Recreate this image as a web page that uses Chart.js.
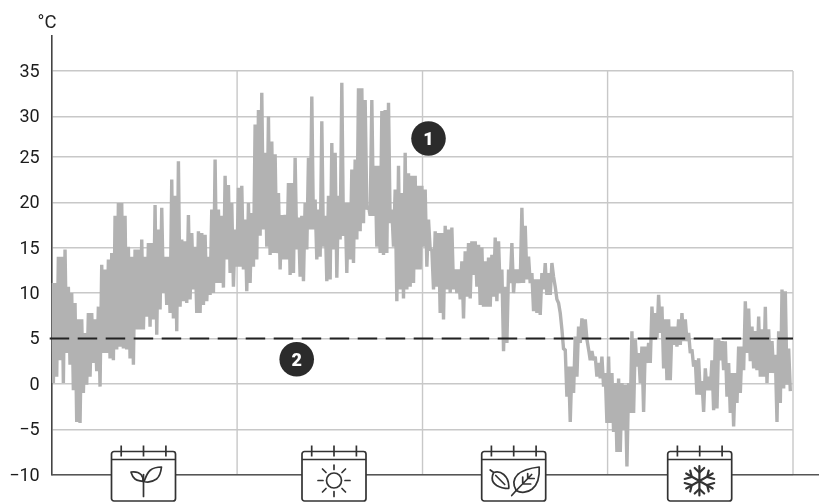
<!DOCTYPE html>
<html>
<head>
<meta charset="utf-8">
<style>
html,body{margin:0;padding:0;background:#fff;width:819px;height:503px;overflow:hidden}
#wrap{position:relative;width:819px;height:503px}
canvas{position:absolute;left:0;top:0}
svg{position:absolute;left:0;top:0;pointer-events:none}
text{font-family:Roboto,sans-serif}
</style>
<script src="https://cdn.jsdelivr.net/npm/chart.js@4/dist/chart.umd.js"></script>
</head>
<body>
<div id="wrap">
<canvas id="c" width="819" height="503"></canvas>
<svg width="819" height="503" viewBox="0 0 819 503">
  <defs>
    <g id="cal" fill="none" stroke="#333" stroke-width="1.7">
      <rect x="0" y="0" width="64" height="49.5" rx="2.5" fill="#fff"/>
      <line x1="0" y1="8" x2="64" y2="8"/>
      <line x1="9.7" y1="-6" x2="9.7" y2="5"/>
      <line x1="32" y1="-6" x2="32" y2="5"/>
      <line x1="54.4" y1="-6" x2="54.4" y2="5"/>
    </g>
  </defs>
  <text x="37.5" y="27.5" font-size="18.5" fill="#222">°C</text>
  <g transform="translate(111.5 451.5)">
    <use href="#cal"/>
    <g fill="none" stroke="#333" stroke-width="1.7" stroke-linecap="round" stroke-linejoin="round">
      <path d="M32 45V23"/>
      <path d="M31.5 30C29 29 26 29.5 23.5 27.5C20.5 25 20 22 19.5 20.5C23 20 27 20.5 29.5 23C31.5 25.5 32 28 31.5 30Z"/>
      <path d="M32.5 30C34 27 35 22 38.5 19C41.5 16.5 46 15.5 50 15.5C49.5 20 48 25 45 27.5C41.5 30 36 31 32.5 30Z"/>
    </g>
  </g>
  <g transform="translate(302 451.5)">
    <use href="#cal"/>
    <g fill="none" stroke="#333" stroke-width="1.7" stroke-linecap="round">
      <circle cx="32" cy="29" r="7.5"/>
      <path d="M32 13.5V18M32 40V45M16 29H21M43 29H48M20.5 17.5L24 21M40 37L43.5 40.5M43.5 17.5L40 21M24 37L20.5 40.5"/>
    </g>
  </g>
  <g transform="translate(481.7 451.5)">
    <use href="#cal"/>
    <g fill="none" stroke="#333" stroke-width="1.7" stroke-linecap="round" stroke-linejoin="round">
      <path d="M8.5 18.5L12 21C9.5 26 10.5 31 15 34C19 36.5 23 37 27 37C27.5 32 26 26.5 22 23C19 20.5 15 20 12 21"/>
      <path d="M14 24L23 33"/>
      <path d="M30 44L34.5 39"/>
      <path d="M34.5 39C31 33 32 27 36 23C41 18.5 49 16.5 57.5 15.5C58 24 56 33 50.5 37.5C46 41 39.5 42 34.5 39Z"/>
      <path d="M34.5 39L50 23M41 32.5V25.5M41 32.5H49M46 27V22M46 27H52.5"/>
    </g>
  </g>
  <g transform="translate(667.7 451.5)">
    <use href="#cal"/>
    <g fill="none" stroke="#333" stroke-width="2.2" stroke-linecap="round" stroke-linejoin="round">
      <path d="M31.7 14.5V44M18.5 22L45 37M18.5 37L45 22"/>
      <path d="M27 16.5L31.7 21L36.5 16.5M27 42L31.7 37.5L36.5 42"/>
      <path d="M17 27.5L24 25.5L22.5 19M46.5 27.5L39.5 25.5L41 19M17 31.5L24 33.5L22.5 40M46.5 31.5L39.5 33.5L41 40"/>
    </g>
  </g>
  <circle cx="428.5" cy="138.5" r="17.3" fill="#2b2b2b"/>
  <text x="428.5" y="145" font-size="18" font-weight="900" fill="#fff" text-anchor="middle">1</text>
  <circle cx="296.7" cy="359.3" r="17.3" fill="#2b2b2b"/>
  <text x="296.7" y="365.8" font-size="18" font-weight="900" fill="#fff" text-anchor="middle">2</text>
</svg>
</div>
<script>
// Temperature envelope (°C), one column per step along the year
const springHigh = [11.1,11.1,14.0,14.0,14.8,10.7,10.0,8.9,7.1,7.1,5.6,7.8,7.8,7.1,8.5,13.1,12.6,13.7,14.4,18.5,19.9,19.9,18.5,15.1,14.0,14.8,14.8,15.9,14.0,15.5,15.5,19.7,17.0,19.4,14.0,14.0,22.5,20.7,24.5,15.9,15.7,18.6,16.6,15.1,16.8,16.6,16.4,14.0,19.2,24.7,19.2,18.5,22.9,21.9,19.9,17.0,21.6];
const springLow = [0.1,0.8,2.6,0.1,3.4,2.1,-0.7,-4.2,-4.3,-1.0,-0.1,0.8,2.3,1.4,-0.3,3.4,3.4,2.8,2.6,3.8,4.1,3.9,3.8,2.8,2.1,6.0,6.0,6.0,7.4,6.3,7.1,5.4,8.2,10.0,8.7,7.8,7.2,5.8,8.5,9.1,8.9,9.3,10.4,7.8,7.8,8.7,9.1,9.8,10.0,11.1,11.1,10.6,13.7,12.2,10.7,12.9,12.9];
const summerHigh = [21.8,18.1,19.9,18.8,29.0,30.7,32.6,25.5,30.0,26.9,25.3,21.0,18.6,18.6,22.1,22.1,24.9,18.3,18.5,19.9,24.9,32.2,20.3,19.2,29.4,18.5,20.7,26.7,25.5,20.7,33.7,19.9,19.9,23.6,24.7,33.1,33.1,31.8,19.6,31.8,24.0,24.0,30.6,30.7,31.5,19.2,21.4,24.0,21.0,25.5,23.2,22.9,22.9,21.8,21.8,21.4,18.1,14.8,16.8,16.6];
const summerLow = [12.6,10.2,11.1,12.9,13.7,16.3,17.0,15.1,14.2,14.4,14.4,12.6,13.7,13.7,12.0,12.2,14.8,11.8,11.3,14.8,17.0,17.0,13.7,14.0,15.1,11.3,11.5,14.8,11.7,15.9,16.3,12.2,13.7,13.3,15.9,16.8,17.7,19.2,18.5,18.5,15.1,14.4,14.2,14.4,17.7,15.1,9.1,10.4,9.4,10.4,10.7,11.1,12.6,12.6,15.1,12.9,14.8,10.4,10.7,7.8];
const autumnHigh = [16.6,17.4,17.0,17.2,12.6,12.6,13.5,14.6,15.5,15.7,15.7,15.3,15.0,13.5,13.9,14.2,16.1,15.7,12.6,10.7,12.6,15.5,12.6,12.6,19.4,17.4,14.0,12.2,11.5,11.5,12.2,13.3,12.2,13.3,10.7,8.9,6.0,3.8,1.9,1.9,5.2,6.3,7.2,7.1,3.8,3.6,3.0,2.3,3.0,1.2,3.0,1.2,0.1,0.6];
const autumnLow = [7.1,10.4,10.0,10.4,10.0,9.3,7.2,9.6,9.4,12.0,10.7,8.7,8.5,8.5,8.5,9.6,9.1,10.0,3.6,4.5,11.1,10.0,11.1,11.1,11.1,11.5,11.1,8.0,7.8,7.6,10.4,9.8,9.8,11.8,9.3,7.8,3.8,-1.4,-4.2,-1.0,0.8,4.5,5.0,4.9,2.6,2.6,0.8,0.6,-0.3,-4.3,-4.3,-5.3,-7.5,-7.5];
const winterHigh = [0.1,-0.1,0.1,5.8,4.9,3.4,4.1,4.1,4.5,8.5,7.8,9.8,8.5,7.1,7.1,6.3,6.3,7.1,7.8,7.1,5.6,3.8,2.6,2.8,0.3,1.7,0.8,2.6,4.9,5.0,4.7,4.7,2.3,1.2,1.2,4.1,4.1,9.1,8.3,6.3,5.8,7.4,6.0,8.5,6.0,4.7,3.2,5.8,10.4,10.2,3.9];
const winterLow = [-5.1,-9.1,-3.2,-3.2,1.9,0.1,-3.1,2.3,2.3,4.9,5.0,5.6,1.7,0.4,0.4,4.3,4.1,4.3,4.7,4.7,3.4,1.9,-1.2,-1.2,-3.1,-0.7,-0.7,-2.9,-2.7,2.6,1.5,-1.4,-3.2,-4.7,-2.1,-1.0,1.5,3.4,2.5,1.7,1.5,0.8,0.8,0.1,1.2,1.2,-4.2,-2.1,-0.5,-0.1,-0.8];
const thresholdC = 5;
const yTicks = [-10,-5,0,5,10,15,20,25,30,35];
const seasonBounds = [0,55.6,111.2,166.7,222.3];

const highs = [...springHigh,...summerHigh,...autumnHigh,...winterHigh];
const lows = [...springLow,...summerLow,...autumnLow,...winterLow];
// each column is traced up to its high and down to its low, as the dense hourly trace does
const trace = highs.flatMap((h,i)=>[{x:i,y:h},{x:i+0.5,y:lows[i]}]);

// the reference's axis is drawn with the 25-30 band slightly narrower than the others
class BentLinearScale extends Chart.LinearScale {
  getPixelForValue(v){
    if (v === null || v === undefined) return NaN;
    const w = v <= 25 ? v : v <= 30 ? 25 + (v-25)*0.888 : v - 0.56;
    return super.getPixelForValue(w);
  }
}
BentLinearScale.id = 'bentLinear';
BentLinearScale.defaults = Chart.LinearScale.defaults;
Chart.register(BentLinearScale);

const GRAY = '#b2b2b2';
const frame = {
  id:'frame',
  beforeDatasetsDraw(chart){
    const {ctx, scales:{x,y}} = chart;
    ctx.save();
    ctx.strokeStyle = '#c8c8c8';
    ctx.lineWidth = 1.4;
    seasonBounds.slice(1).forEach(b=>{
      const px = x.getPixelForValue(b);
      ctx.beginPath();
      ctx.moveTo(px, y.getPixelForValue(35));
      ctx.lineTo(px, y.getPixelForValue(-10));
      ctx.stroke();
    });
    ctx.restore();
  },
  afterDraw(chart){
    const {ctx, scales:{y}, chartArea:a} = chart;
    ctx.save();
    ctx.strokeStyle = '#555';
    ctx.lineWidth = 1.5;
    ctx.beginPath();
    ctx.moveTo(a.left, y.getPixelForValue(-10));
    ctx.lineTo(819, y.getPixelForValue(-10));
    ctx.stroke();
    ctx.restore();
  }
};

new Chart(document.getElementById('c'),{
  type:'line',
  data:{datasets:[
    {label:'5 °C',data:[{x:-0.6,y:thresholdC},{x:seasonBounds[4],y:thresholdC}],borderColor:'#222',borderWidth:2,borderDash:[19.5,8.5],pointRadius:0,fill:false,clip:false},
    {label:'Temperature',data:trace,borderColor:GRAY,borderWidth:3.4,borderJoinStyle:'bevel',pointRadius:0,fill:false,tension:0}
  ]},
  plugins:[frame],
  options:{
    responsive:false,animation:false,
    layout:{padding:{top:36,right:26,bottom:28.3,left:0}},
    plugins:{legend:{display:false},tooltip:{enabled:false}},
    scales:{
      x:{type:'linear',min:0,max:seasonBounds[4],
        grid:{display:false},border:{display:false},ticks:{display:false},
        afterFit(s){s.height=0;}},
      y:{type:'bentLinear',min:-10,max:38.3,
        afterBuildTicks(s){s.ticks=yTicks.map(value=>({value}));},
        afterFit(s){s.width=51.7;},
        grid:{color:'#c8c8c8',lineWidth:1.4,drawTicks:false},
        border:{display:true,color:'#444',width:1.6},
        ticks:{padding:12,color:'#1c1c1c',autoSkip:false,labelOffset:1.5,
          font:{family:'Roboto',size:18},
          callback:v=>String(v).replace('-','\u2212')}}
    }
  }
});
</script>
</body>
</html>
